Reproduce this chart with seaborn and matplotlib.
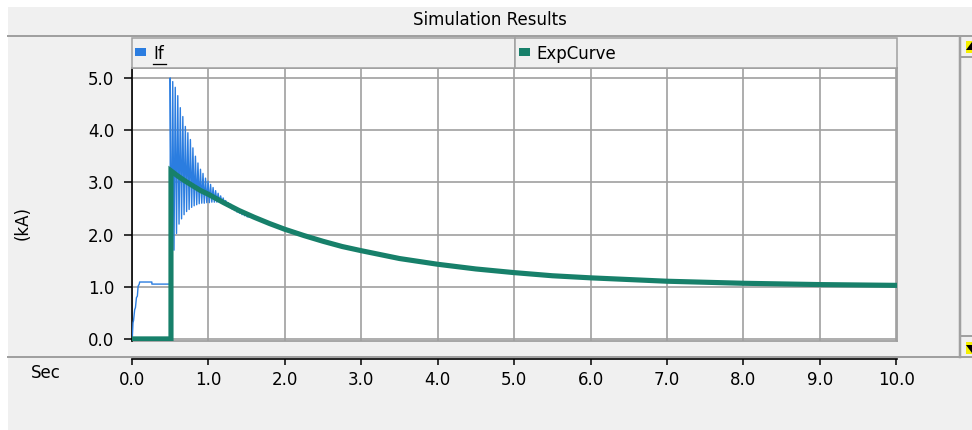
import matplotlib
matplotlib.use("Agg")
import matplotlib.pyplot as plt
import pandas as pd
import seaborn as sns
from matplotlib.patches import Rectangle, Polygon
from matplotlib.lines import Line2D
from matplotlib.ticker import FormatStrFormatter

# ---------------------------------------------------------------- data
title = "Simulation Results"
series_names = ["If", "ExpCurve"]
y_label = "(kA)"
x_label = "Sec"
x_ticks = [0.0, 1.0, 2.0, 3.0, 4.0, 5.0, 6.0, 7.0, 8.0, 9.0, 10.0]
y_ticks = [0.0, 1.0, 2.0, 3.0, 4.0, 5.0]

# If: start-up ramp before the fault
if_start_t = [0.0, 0.005, 0.013, 0.02, 0.035, 0.045, 0.058, 0.07, 0.08,
              0.095, 0.10, 0.26, 0.26, 0.49, 0.50]
if_start_kA = [0.0, 0.05, 0.31, 0.35, 0.56, 0.60, 0.79, 0.82, 1.01,
               1.05, 1.09, 1.09, 1.05, 1.05, 1.05]

# If: oscillation peaks and troughs after the step
if_peak_t = [0.500, 0.533, 0.566, 0.599, 0.632, 0.665, 0.698, 0.731, 0.764,
             0.797, 0.830, 0.863, 0.896, 0.929, 0.962, 0.995, 1.028, 1.061,
             1.094, 1.127, 1.160, 1.193, 1.226, 1.259, 1.292, 1.325, 1.358,
             1.391, 1.424, 1.457, 1.490]
if_peak_kA = [5.00, 4.93, 4.82, 4.66, 4.43, 4.26, 4.07, 3.95, 3.82, 3.66,
              3.50, 3.37, 3.25, 3.17, 3.08, 3.02, 2.96, 2.90, 2.84, 2.79,
              2.74, 2.70, 2.65, 2.61, 2.58, 2.54, 2.51, 2.48, 2.46, 2.43,
              2.41]
if_trough_t = [0.5165, 0.5495, 0.5825, 0.6155, 0.6485, 0.6815, 0.7145,
               0.7475, 0.7805, 0.8135, 0.8465, 0.8795, 0.9125, 0.9455,
               0.9785, 1.0115, 1.0445, 1.0775, 1.1105, 1.1435, 1.1765,
               1.2095, 1.2425, 1.2755, 1.3085, 1.3415, 1.3745, 1.4075,
               1.4405, 1.4735, 1.5065]
if_trough_kA = [1.30, 1.70, 2.02, 2.20, 2.30, 2.38, 2.44, 2.48, 2.52, 2.55,
                2.57, 2.59, 2.60, 2.60, 2.61, 2.61, 2.62, 2.62, 2.62, 2.62,
                2.60, 2.58, 2.55, 2.52, 2.49, 2.46, 2.43, 2.41, 2.38, 2.36,
                2.34]

# If: settled decay
if_tail_t = [1.6, 1.8, 2.0, 2.25, 2.5, 2.75, 3.0, 3.5, 4.0, 4.5, 5.0, 5.5,
             6.0, 7.0, 8.0, 9.0, 10.0]
if_tail_kA = [2.34, 2.23, 2.12, 2.00, 1.89, 1.79, 1.71, 1.56, 1.45, 1.36,
              1.28, 1.22, 1.18, 1.11, 1.07, 1.05, 1.03]

# ExpCurve
exp_t = [0.0, 0.51, 0.51, 0.6, 0.7, 0.8, 0.9, 1.0, 1.2, 1.4, 1.6, 1.8, 2.0,
         2.25, 2.5, 2.75, 3.0, 3.5, 4.0, 4.5, 5.0, 5.5, 6.0, 7.0, 8.0, 9.0,
         10.0]
exp_kA = [0.0, 0.0, 3.22, 3.12, 3.02, 2.93, 2.84, 2.77, 2.61, 2.46, 2.33,
          2.21, 2.10, 1.98, 1.87, 1.77, 1.69, 1.54, 1.43, 1.34, 1.27, 1.21,
          1.17, 1.105, 1.066, 1.041, 1.026]

# ---------------------------------------------------------------- frames
osc_t = [v for pair in zip(if_peak_t, if_trough_t) for v in pair]
osc_kA = [v for pair in zip(if_peak_kA, if_trough_kA) for v in pair]
df_if = pd.DataFrame({"t": if_start_t + osc_t + if_tail_t,
                      "kA": if_start_kA + osc_kA + if_tail_kA})
df_exp = pd.DataFrame({"t": exp_t, "kA": exp_kA})

# ---------------------------------------------------------------- style
BG = "#f0f0f0"
GRAY = "#a0a0a0"
BLUE = "#2b7de0"
GREEN = "#17806a"
plt.rcParams["font.family"] = ["DejaVu Sans"]
plt.rcParams["font.size"] = 12

W, H = 972, 430
fig = plt.figure(figsize=(W / 100, H / 100), dpi=100, facecolor=BG)


def fx(px):
    return px / W


def fy(py):
    return 1 - py / H


def frect(x0, y0, x1, y1, **kw):
    fig.add_artist(Rectangle((fx(x0), fy(y1)), (x1 - x0) / W, (y1 - y0) / H,
                             transform=fig.transFigure, **kw))


def fline(xs, ys, lw=1.5, color=GRAY, **kw):
    fig.add_artist(Line2D([fx(x) for x in xs], [fy(y) for y in ys],
                          transform=fig.transFigure, lw=lw * 0.72,
                          color=color, **kw))


# window chrome
frect(0, 0, W, 7, facecolor="white", edgecolor="none")
frect(0, 0, 8, H, facecolor="white", edgecolor="none")
fig.text(fx(490), fy(20), title, ha="center", va="center", fontsize=12)
fline([8, W], [36, 36], lw=2)
fline([8, W], [357, 357], lw=2)

# legend strip
frect(132, 38, 515, 68, facecolor=BG, edgecolor=GRAY, lw=1.1)
frect(515, 38, 897, 68, facecolor=BG, edgecolor=GRAY, lw=1.1)
frect(135, 48, 146, 56, facecolor=BLUE, edgecolor="none")
fig.text(fx(153), fy(54), series_names[0], ha="left", va="center", fontsize=12)
fline([153, 166], [64, 64], lw=1.3, color="black")
frect(519, 48, 530, 56, facecolor=GREEN, edgecolor="none")
fig.text(fx(536), fy(54), series_names[1], ha="left", va="center", fontsize=12)

# scroll bar
fline([960, 960], [37, 357], lw=2.5)
fline([961, W], [57, 57], lw=2)
fline([961, W], [336, 336], lw=2)
frect(966, 41, W, 53, facecolor="#f5f000", edgecolor="none")
fig.add_artist(Polygon([(fx(966), fy(50)), (fx(972), fy(42)), (fx(978), fy(50))],
                       closed=True, transform=fig.transFigure,
                       facecolor="black", edgecolor="none"))
frect(966, 342, W, 354, facecolor="#f5f000", edgecolor="none")
fig.add_artist(Polygon([(fx(966), fy(345)), (fx(972), fy(353)), (fx(978), fy(345))],
                       closed=True, transform=fig.transFigure,
                       facecolor="black", edgecolor="none"))

# ---------------------------------------------------------------- plot
ax = fig.add_axes([fx(132), fy(341), (897 - 132) / W, (341 - 68) / H])
ax.set_facecolor("white")

sns.lineplot(data=df_if, x="t", y="kA", sort=False, estimator=None, ax=ax,
             color=BLUE, lw=1.0, legend=False, zorder=3)
sns.lineplot(data=df_exp, x="t", y="kA", sort=False, estimator=None, ax=ax,
             color=GREEN, lw=3.7, legend=False, zorder=4,
             solid_joinstyle="miter")

ax.set_xlim(0, 10.01)
ax.set_ylim(-0.04, 5.19)
ax.set_xticks(x_ticks)
ax.set_yticks(y_ticks)
ax.xaxis.set_major_formatter(FormatStrFormatter("%.1f"))
ax.yaxis.set_major_formatter(FormatStrFormatter("%.1f"))
ax.set_xlabel("")
ax.set_ylabel("")
ax.set_axisbelow(True)
ax.grid(True, color=GRAY, lw=1.2)

for side in ("top", "right"):
    ax.spines[side].set_color(GRAY)
    ax.spines[side].set_linewidth(1.3)
ax.spines["left"].set_color("black")
ax.spines["left"].set_linewidth(1.2)
ax.spines["bottom"].set_color("black")
ax.spines["bottom"].set_linewidth(1.2)
ax.spines["bottom"].set_position(("outward", 18 * 0.72))
ax.add_line(Line2D([0, 1], [0, 0], transform=ax.transAxes, color=GRAY,
                   lw=1.3, clip_on=False, zorder=2))

ax.tick_params(axis="y", direction="out", length=5.8, width=1.1,
               color="black", pad=7, labelsize=12)
ax.tick_params(axis="x", direction="out", length=4.3, width=1.1,
               color="black", pad=4, labelsize=12)

fig.text(fx(23), fy(223), y_label, rotation=90, ha="center", va="center",
         fontsize=12)
fig.text(fx(46), fy(373), x_label, ha="center", va="center", fontsize=12)

fig.savefig("out.png", dpi=100, facecolor=BG)
